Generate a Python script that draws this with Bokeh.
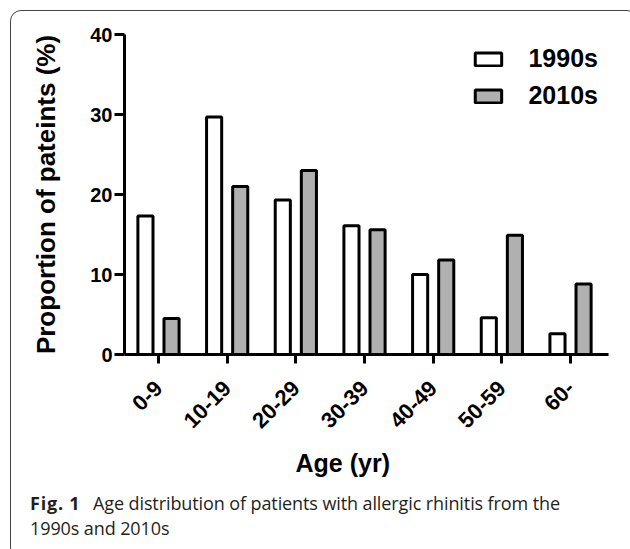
from math import pi
from bokeh.plotting import figure
from bokeh.layouts import column
from bokeh.models import (ColumnDataSource, Range1d, FixedTicker, Title, Div,
                          Legend, LegendItem)
from bokeh.transform import dodge
from bokeh.embed import file_html
from bokeh.resources import INLINE

# ---- data ----
categories = ["0-9", "10-19", "20-29", "30-39", "40-49", "50-59", "60-"]
series_1990s = [17.3, 29.7, 19.3, 16.1, 10.0, 4.6, 2.6]
series_2010s = [4.5, 21.0, 23.0, 15.6, 11.8, 14.9, 8.8]
y_ticks = [0, 10, 20, 30, 40]
series_names = ["1990s", "2010s"]
y_title = "Proportion of pateints (%)"
x_title = "Age (yr)"
caption_bold = "Fig. 1"
caption_text = ["Age distribution of patients with allergic rhinitis from the",
                "1990s and 2010s"]

FONT = "Liberation Sans"

src = ColumnDataSource(dict(
    idx=list(range(len(categories))),
    cat=categories,
    v1990=series_1990s,
    v2010=series_2010s,
))

p = figure(width=616, height=474, output_backend="svg", toolbar_location=None,
           x_range=Range1d(-0.495, 6.553), y_range=Range1d(0, 40),
           min_border_left=113, min_border_right=19, min_border_top=23,
           min_border_bottom=131)
p.outline_line_color = None
p.xgrid.visible = False
p.ygrid.visible = False
p.background_fill_color = "white"
p.border_fill_color = None

r1 = p.vbar(x=dodge("idx", -0.19), top="v1990", bottom=0, width=0.22, source=src,
            fill_color="white", line_color="black", line_width=3)
r2 = p.vbar(x=dodge("idx", 0.19), top="v2010", bottom=0, width=0.22, source=src,
            fill_color="#b0b0b0", line_color="black", line_width=3)

# axes
for ax in (p.xaxis[0], p.yaxis[0]):
    ax.axis_line_width = 3
    ax.axis_line_color = "black"
    ax.major_tick_line_width = 3
    ax.major_tick_line_color = "black"
    ax.major_tick_in = 0
    ax.minor_tick_line_color = None
    ax.major_label_text_font = FONT
    ax.major_label_text_font_style = "bold"
    ax.major_label_text_color = "black"

p.yaxis.ticker = FixedTicker(ticks=y_ticks)
p.yaxis.major_tick_out = 10
p.yaxis.major_label_standoff = 2
p.yaxis.major_label_text_font_size = "20px"
p.yaxis.axis_label = y_title
p.yaxis.axis_label_text_font = FONT
p.yaxis.axis_label_text_font_style = "bold"
p.yaxis.axis_label_text_font_size = "26px"
p.yaxis.axis_label_text_color = "black"
p.yaxis.axis_label_standoff = 26

p.xaxis.ticker = FixedTicker(ticks=list(range(len(categories))))
p.xaxis.major_label_overrides = {i: c for i, c in enumerate(categories)}
p.xaxis.major_tick_out = 9
p.xaxis.major_label_orientation = pi / 4
p.xaxis.major_label_standoff = 21
p.xaxis.major_label_text_font_size = "22px"

# legend
legend = Legend(items=[LegendItem(label=series_names[0], renderers=[r1]),
                       LegendItem(label=series_names[1], renderers=[r2])],
                location="top_right", orientation="vertical")
legend.label_text_font = FONT
legend.label_text_font_style = "bold"
legend.label_text_font_size = "25px"
legend.label_text_color = "black"
legend.glyph_width = 33
legend.glyph_height = 16
legend.label_height = 16
legend.label_standoff = 24
legend.spacing = 8
legend.padding = 0
legend.margin = 10
legend.border_line_alpha = 0
legend.background_fill_alpha = 0
p.add_layout(legend)

# x axis title (offset from the frame centre as in the reference)
p.add_layout(Title(text=x_title, align="left", offset=171, standoff=18,
                   text_font=FONT, text_font_style="bold", text_font_size="25px",
                   text_color="black"), "below")

# caption
cap_html = ('<div style="margin-top:1px; padding-left:14px; font-family:\'Open Sans\'; '
            'font-size:18px; line-height:24.5px; color:#231f20; white-space:nowrap; '
            'letter-spacing:-0.1px;">'
            '<b style="display:inline-block; width:63px; letter-spacing:0.8px;">%s</b>'
            '%s<br>%s</div>' % (caption_bold, caption_text[0], caption_text[1]))
cap = Div(text=cap_html, width=616, height=62)

layout = column(p, cap, margin=(10, 0, 0, 10),
                styles={"border": "1.5px solid #444444", "border-radius": "11px",
                        "background-color": "white"})

open("out.html", "w").write(file_html(layout, INLINE))
